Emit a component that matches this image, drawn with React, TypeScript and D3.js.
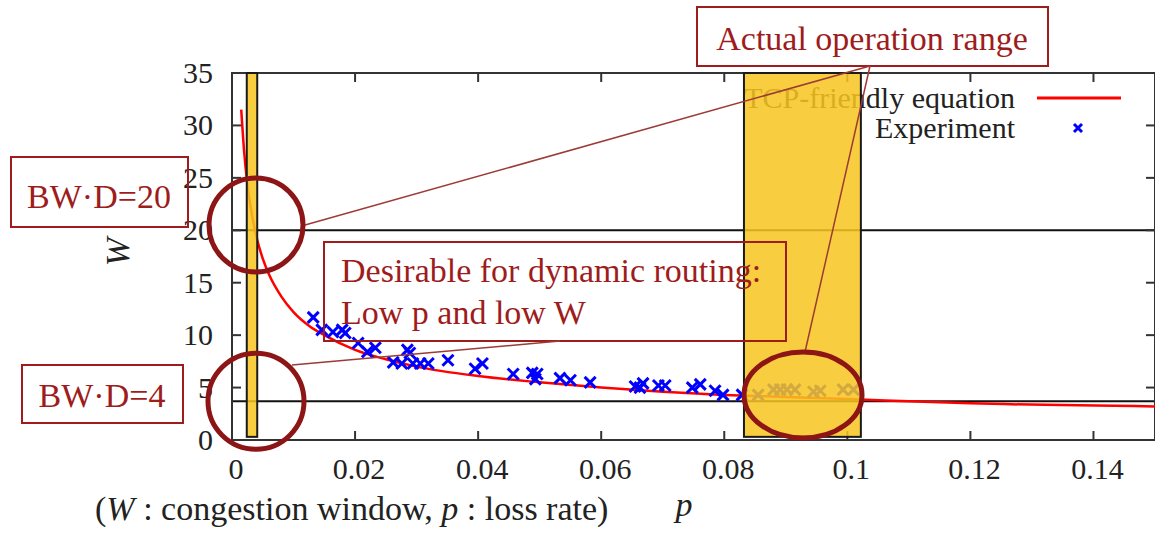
import React from 'react';
import * as d3 from 'd3';

// TCP-friendly equation curve
const curveP = [0.0015, 0.002, 0.0025, 0.003, 0.004, 0.005, 0.006, 0.008, 0.01, 0.0125, 0.015, 0.02, 0.025, 0.03, 0.04, 0.05, 0.06, 0.07, 0.08, 0.09, 0.1, 0.12, 0.15];
const curveW = [31.5, 27.3, 24.4, 22.3, 19.3, 17.3, 15.8, 13.7, 12.2, 10.9, 10.0, 8.6, 7.7, 7.0, 6.1, 5.5, 5.0, 4.6, 4.3, 4.1, 3.9, 3.5, 3.2];

// experiment points
const expP = [0.0132, 0.0146, 0.0164, 0.0179, 0.0184, 0.0205, 0.022, 0.0233, 0.0262, 0.0276, 0.0285, 0.0289, 0.0294, 0.0306, 0.0319, 0.0351, 0.0395, 0.0407, 0.0457, 0.0488, 0.0493, 0.0496, 0.0533, 0.055, 0.0582, 0.0655, 0.0663, 0.0668, 0.0693, 0.0704, 0.0748, 0.0761, 0.0785, 0.0798, 0.0829, 0.0855, 0.088, 0.0891, 0.0902, 0.0915, 0.0945, 0.0956, 0.0993, 0.101];
const expW = [11.7, 10.5, 10.3, 10.5, 10.2, 9.25, 8.4, 8.8, 7.4, 7.3, 8.6, 8.3, 7.3, 7.3, 7.3, 7.6, 6.8, 7.3, 6.3, 6.4, 5.8, 6.3, 5.9, 5.7, 5.5, 5.1, 5.0, 5.4, 5.2, 5.2, 5.0, 5.3, 4.7, 4.3, 4.3, 4.3, 4.8, 4.8, 4.8, 4.8, 4.6, 4.7, 4.8, 4.8];

const xTicks = [0, 0.02, 0.04, 0.06, 0.08, 0.1, 0.12, 0.14];
const xTickLabels = ['0', '0.02', '0.04', '0.06', '0.08', '0.1', '0.12', '0.14'];
const yTicks = [0, 5, 10, 15, 20, 25, 30, 35];

// BW·D reference levels and highlighted ranges of p
const refLevels = [20, 3.7];
const bandLo = [0.0024, 0.0832];
const bandHi = [0.0041, 0.1022];

const serif = "'Liberation Serif', 'Times New Roman', Times, 'DejaVu Serif', serif";
const annoRed = '#9E1C1C';

const App = () => {
  const width = 1155;
  const height = 533;
  const x = d3.scaleLinear().domain([0, 0.15]).range([232, 1155]);
  const y = d3.scaleLinear().domain([0, 35]).range([440, 73]);

  const line = d3.line<number>()
    .x((d, i) => x(curveP[i]))
    .y((d) => y(d))
    .curve(d3.curveMonotoneX);

  const cross = (s) => `M${-s},${-s}L${s},${s}M${-s},${s}L${s},${-s}`;

  const axisColor = '#333';
  const tick = 9;

  // highlight circles, centred on data coordinates
  const rings = [
    { p: 0.0039, w: 20.5, rx: 47, ry: 47 },
    { p: 0.0039, w: 3.7, rx: 48, ry: 48 },
    { p: 0.0928, w: 4.3, rx: 59, ry: 43 },
  ];

  const txt = { fontFamily: serif };

  return (
    <div style={{ position: 'absolute', left: 0, top: 0 }}>
      <svg width={width} height={height} style={{ display: 'block', background: '#fff', fontFamily: serif }}>
        <defs>
          <clipPath id="plot">
            <rect x={x(0)} y={y(35)} width={x(0.15) - x(0)} height={y(0) - y(35)} />
          </clipPath>
        </defs>

        {/* reference lines */}
        {refLevels.map((v, i) => (
          <line key={i} x1={x(0)} x2={x(0.15)} y1={y(v)} y2={y(v)} stroke="#111" strokeWidth={2} />
        ))}

        {/* border */}
        <rect x={x(0)} y={y(35)} width={x(0.15) - x(0)} height={y(0) - y(35)} fill="none" stroke={axisColor} strokeWidth={2} />

        {/* ticks */}
        {xTicks.map((t, i) => (
          <g key={'x' + i}>
            <line x1={x(t)} x2={x(t)} y1={y(0)} y2={y(0) - tick} stroke={axisColor} strokeWidth={2} />
            <line x1={x(t)} x2={x(t)} y1={y(35)} y2={y(35) + tick} stroke={axisColor} strokeWidth={2} />
            <text x={x(t) + 4} y={479} textAnchor="middle" style={txt} fontSize={30} fill="#222">
              {xTickLabels[i]}
            </text>
          </g>
        ))}
        {yTicks.map((t, i) => (
          <g key={'y' + i}>
            <line x1={x(0)} x2={x(0) + tick} y1={y(t)} y2={y(t)} stroke={axisColor} strokeWidth={2} />
            <line x1={x(0.15)} x2={x(0.15) - tick} y1={y(t)} y2={y(t)} stroke={axisColor} strokeWidth={2} />
            <text x={213} y={y(t) + 10} textAnchor="end" style={txt} fontSize={30} fill="#222">
              {t}
            </text>
          </g>
        ))}

        {/* axis labels */}
        <text transform="translate(129,252) rotate(-90)" textAnchor="middle" style={txt} fontStyle="italic" fontSize={34} fill="#222">
          W
        </text>
        <text x={95} y={520} style={txt} fontSize={34} fill="#222">
          (<tspan fontStyle="italic">W</tspan> : congestion window,  <tspan fontStyle="italic">p</tspan> : loss rate)
        </text>
        <text x={684} y={516} textAnchor="middle" style={txt} fontStyle="italic" fontSize={34} fill="#222">
          p
        </text>

        {/* data */}
        <g clipPath="url(#plot)">
          <path d={line(curveW) || ''} fill="none" stroke="#FF0000" strokeWidth={2.5} />
          {expP.map((p, i) => (
            <path key={i} d={cross(5.5)} transform={`translate(${x(p)},${y(expW[i])})`} stroke="#0000FF" strokeWidth={3} fill="none" />
          ))}
        </g>

        {/* legend */}
        <text x={1015} y={108} textAnchor="end" style={txt} fontSize={30} fill="#222">TCP-friendly equation</text>
        <line x1={1037} x2={1121} y1={98} y2={98} stroke="#FF0000" strokeWidth={3} />
        <text x={1015} y={138} textAnchor="end" style={txt} fontSize={30} fill="#222">Experiment</text>
        <path d={cross(4)} transform="translate(1078,128)" stroke="#0000FF" strokeWidth={3} fill="none" />

        {/* highlighted ranges */}
        {bandLo.map((lo, i) => (
          <rect key={i} x={x(lo)} y={y(35)} width={x(bandHi[i]) - x(lo)} height={y(0.3) - y(35)}
            fill="#F7C520" fillOpacity={0.86} stroke="#1a1a1a" strokeWidth={2} />
        ))}

        {/* annotation boxes */}
        <rect x={697} y={7} width={351} height={59} fill="#fff" stroke={annoRed} strokeWidth={2} />
        <text x={872} y={50} textAnchor="middle" style={txt} fontSize={34} fill={annoRed}>Actual operation range</text>

        <rect x={11} y={157} width={177} height={70} fill="none" stroke={annoRed} strokeWidth={2} />
        <text x={99} y={208} textAnchor="middle" style={txt} fontSize={34} fill={annoRed}>BW·D=20</text>

        <rect x={22} y={365} width={161} height={58} fill="none" stroke={annoRed} strokeWidth={2} />
        <text x={102} y={407} textAnchor="middle" style={txt} fontSize={34} fill={annoRed}>BW·D=4</text>

        <rect x={324} y={242} width={462} height={99} fill="none" stroke={annoRed} strokeWidth={2} />
        <text x={341} y={282} style={txt} fontSize={34} fill={annoRed}>Desirable for dynamic routing:</text>
        <text x={341} y={324} style={txt} fontSize={34} fill={annoRed}>Low p and low W</text>

        {/* connectors */}
        <line x1={305} y1={225} x2={870} y2={66} stroke="#9C3B36" strokeWidth={1.5} />
        <line x1={870} y1={66} x2={805} y2={352} stroke="#9C3B36" strokeWidth={1.5} />
        <line x1={292} y1={365} x2={560} y2={341} stroke="#9C3B36" strokeWidth={1.5} />

        {/* rings */}
        {rings.map((r, i) => (
          <ellipse key={i} cx={x(r.p)} cy={y(r.w)} rx={r.rx} ry={r.ry} fill="none" stroke="#8E1515" strokeWidth={5} />
        ))}
      </svg>
    </div>
  );
};

export default App;
